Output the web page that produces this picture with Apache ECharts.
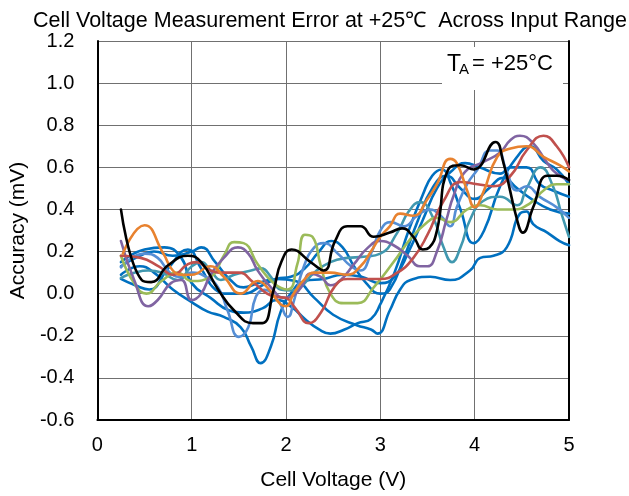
<!DOCTYPE html>
<html><head><meta charset="utf-8">
<script src="https://cdn.jsdelivr.net/npm/echarts@6/dist/echarts.min.js"></script>
<style>html,body{margin:0;padding:0;background:#fff}#c{width:629px;height:496px}</style>
</head><body><div id="c"></div>
<script>
const titleText = "Cell Voltage Measurement Error at +25\u2103  Across Input Range";
const xName = "Cell Voltage (V)";
const yName = "Accuracy (mV)";
const xMin = 0, xMax = 5, xStep = 1;
const yMin = -0.6, yMax = 1.2, yStep = 0.2;

const blackPts = [[0.25,0.40],[0.47,0.065],[0.57,0.055],[0.75,0.135],[0.96,0.18],[1.1,0.15],[1.28,0.02],[1.45,-0.08],[1.65,-0.14],[1.75,-0.14],[1.87,0.02],[1.95,0.15],[2.06,0.21],[2.26,0.15],[2.4,0.11],[2.52,0.25],[2.65,0.32],[2.79,0.32],[2.93,0.27],[3.1,0.29],[3.23,0.31],[3.35,0.27],[3.45,0.21],[3.52,0.22],[3.6,0.30],[3.72,0.59],[3.85,0.61],[3.99,0.59],[4.22,0.72],[4.3,0.63],[4.45,0.35],[4.51,0.29],[4.62,0.41],[4.77,0.56],[4.87,0.56],[5.0,0.54]];
const orangePts = [[0.27,0.19],[0.5,0.325],[0.7,0.19],[0.8,0.11],[0.9,0.09],[1.0,0.09],[1.2,0.13],[1.34,0.08],[1.52,0.0],[1.7,0.06],[1.8,0.03],[1.94,-0.05],[2.0,-0.06],[2.08,0.0],[2.2,0.07],[2.3,0.10],[2.47,0.10],[2.65,0.09],[2.79,0.13],[2.9,0.2],[3.0,0.27],[3.1,0.32],[3.21,0.38],[3.35,0.37],[3.5,0.45],[3.6,0.52],[3.74,0.64],[3.81,0.62],[3.92,0.49],[4.0,0.41],[4.09,0.48],[4.24,0.65],[4.38,0.69],[4.55,0.70],[4.73,0.65],[4.9,0.61],[5.0,0.58]];
const redPts = [[0.25,0.18],[0.46,0.17],[0.65,0.13],[0.8,0.09],[0.96,0.14],[1.05,0.15],[1.2,0.11],[1.34,0.10],[1.5,0.10],[1.65,0.055],[1.8,0.0],[1.9,-0.015],[2.0,-0.02],[2.1,-0.07],[2.24,-0.14],[2.37,-0.09],[2.51,0.03],[2.65,0.07],[2.82,0.07],[3.0,0.07],[3.18,0.10],[3.35,0.17],[3.5,0.28],[3.67,0.44],[3.85,0.53],[4.03,0.52],[4.2,0.51],[4.38,0.56],[4.55,0.68],[4.73,0.75],[4.87,0.70],[5.0,0.60]];
const greenPts = [[0.25,0.18],[0.39,0.05],[0.52,0.0],[0.68,0.06],[0.85,0.10],[1.0,0.06],[1.2,0.08],[1.34,0.18],[1.45,0.245],[1.55,0.24],[1.7,0.14],[1.87,0.05],[2.02,0.02],[2.12,0.14],[2.2,0.28],[2.28,0.27],[2.37,0.13],[2.47,0.0],[2.61,-0.045],[2.76,-0.045],[2.93,0.03],[3.14,0.15],[3.32,0.26],[3.5,0.34],[3.6,0.36],[3.74,0.34],[3.92,0.40],[4.06,0.42],[4.24,0.40],[4.41,0.40],[4.59,0.43],[4.73,0.49],[4.87,0.52],[5.0,0.52]];
const purplePts = [[0.25,0.25],[0.39,0.065],[0.54,-0.06],[0.64,-0.03],[0.78,0.05],[0.89,0.065],[1.0,-0.03],[1.1,0.0],[1.2,0.09],[1.34,0.17],[1.49,0.22],[1.6,0.19],[1.7,0.11],[1.84,0.03],[1.98,-0.02],[2.05,-0.015],[2.16,0.03],[2.26,0.095],[2.37,0.08],[2.47,0.04],[2.58,0.065],[2.72,0.14],[2.86,0.215],[3.0,0.25],[3.14,0.23],[3.29,0.18],[3.42,0.13],[3.5,0.13],[3.6,0.2],[3.7,0.35],[3.78,0.47],[3.9,0.58],[4.09,0.625],[4.27,0.67],[4.38,0.73],[4.48,0.75],[4.62,0.715],[4.77,0.62],[4.87,0.57],[5.0,0.54]];
const tealPts = [[0.25,0.075],[0.4,0.10],[0.54,0.11],[0.68,0.10],[0.85,0.065],[1.0,0.13],[1.1,0.15],[1.2,0.11],[1.31,0.065],[1.45,0.09],[1.63,0.11],[1.73,0.12],[1.84,0.08],[1.94,0.02],[2.05,0.015],[2.15,0.03],[2.3,0.10],[2.47,0.15],[2.65,0.17],[2.82,0.175],[3.0,0.19],[3.18,0.29],[3.3,0.39],[3.42,0.435],[3.56,0.36],[3.67,0.22],[3.76,0.15],[3.85,0.22],[3.95,0.35],[4.09,0.44],[4.27,0.46],[4.45,0.42],[4.55,0.5],[4.7,0.60],[4.83,0.51],[4.92,0.38],[5.0,0.27]];
const steelPts = [[0.25,0.125],[0.5,0.19],[0.64,0.17],[0.78,0.095],[0.9,0.08],[1.0,0.10],[1.15,0.08],[1.28,0.03],[1.38,-0.08],[1.5,-0.205],[1.6,-0.16],[1.68,-0.015],[1.77,0.018],[1.91,-0.03],[2.02,-0.11],[2.08,-0.04],[2.19,0.13],[2.3,0.22],[2.4,0.24],[2.55,0.19],[2.69,0.13],[2.79,0.11],[2.9,0.19],[3.0,0.30],[3.11,0.34],[3.25,0.32],[3.39,0.37],[3.53,0.40],[3.64,0.37],[3.74,0.32],[3.81,0.41],[3.92,0.52],[4.03,0.59],[4.16,0.68],[4.24,0.68],[4.34,0.58],[4.45,0.49],[4.55,0.51],[4.69,0.46],[4.87,0.41],[5.0,0.36]];
const blueAPts = [[0.25,0.09],[0.45,0.13],[0.6,0.1],[0.8,0.02],[1.0,-0.04],[1.17,-0.085],[1.34,-0.11],[1.52,-0.16],[1.63,-0.25],[1.73,-0.33],[1.84,-0.25],[1.94,-0.09],[2.05,0.0],[2.2,0.06],[2.4,0.07],[2.6,0.09],[2.8,0.08],[3.0,0.05],[3.15,0.08],[3.3,0.2],[3.45,0.35],[3.6,0.5],[3.75,0.58],[3.9,0.62],[4.05,0.6],[4.27,0.57],[4.38,0.6],[4.55,0.6],[4.69,0.52],[4.83,0.49],[5.0,0.46]];
const blueBPts = [[0.25,0.15],[0.5,0.21],[0.71,0.22],[0.89,0.17],[1.0,0.05],[1.2,-0.02],[1.4,-0.08],[1.55,-0.09],[1.75,-0.07],[1.9,-0.03],[2.05,-0.06],[2.2,-0.12],[2.35,-0.17],[2.47,-0.19],[2.62,-0.17],[2.76,-0.14],[2.9,-0.12],[3.0,-0.05],[3.15,0.1],[3.3,0.3],[3.45,0.47],[3.55,0.56],[3.65,0.59],[3.75,0.52],[3.85,0.40],[3.99,0.24],[4.1,0.3],[4.27,0.51],[4.45,0.65],[4.59,0.70],[4.73,0.63],[4.87,0.59],[5.0,0.52]];
const blueCPts = [[0.25,0.07],[0.4,0.04],[0.55,0.02],[0.75,0.12],[0.96,0.21],[1.1,0.12],[1.25,0.02],[1.4,0.0],[1.55,0.0],[1.75,0.04],[1.9,0.07],[2.05,0.08],[2.2,0.12],[2.35,0.2],[2.48,0.25],[2.6,0.22],[2.72,0.13],[2.85,0.05],[3.0,0.0],[3.1,0.02],[3.25,0.17],[3.4,0.35],[3.55,0.5],[3.7,0.56],[3.85,0.5],[4.0,0.45],[4.15,0.5],[4.3,0.55],[4.45,0.5],[4.6,0.45],[4.8,0.40],[5.0,0.38]];
const blueDPts = [[0.25,0.13],[0.45,0.18],[0.6,0.2],[0.8,0.18],[1.0,0.2],[1.1,0.22],[1.25,0.15],[1.4,0.07],[1.55,0.03],[1.7,0.05],[1.9,0.07],[2.1,0.06],[2.3,-0.02],[2.5,-0.1],[2.75,-0.15],[2.9,-0.17],[2.97,-0.19],[3.1,-0.08],[3.21,0.02],[3.32,0.065],[3.53,0.08],[3.74,0.065],[3.95,0.11],[4.06,0.17],[4.2,0.18],[4.34,0.22],[4.48,0.38],[4.55,0.39],[4.62,0.33],[4.77,0.29],[4.9,0.25],[5.0,0.23]];

const seriesDefs = [
  {name:'blueD', data: blueDPts, color:'#0070C0'},
  {name:'blueC', data: blueCPts, color:'#0070C0'},
  {name:'blueB', data: blueBPts, color:'#0070C0'},
  {name:'blueA', data: blueAPts, color:'#0070C0'},
  {name:'teal', data: tealPts, color:'#4198AF'},
  {name:'steel', data: steelPts, color:'#558ED5'},
  {name:'green', data: greenPts, color:'#9BBB59'},
  {name:'purple', data: purplePts, color:'#8064A2'},
  {name:'red', data: redPts, color:'#C0504D'},
  {name:'orange', data: orangePts, color:'#E8822F'},
  {name:'black', data: blackPts, color:'#000000'}
];

const FONT = 'Liberation Sans, Arial, sans-serif';
const chart = echarts.init(document.getElementById('c'), null, {renderer:'canvas'});
chart.setOption({
  animation: false,
  backgroundColor: '#fff',
  title: {text: titleText, left: 28, top: 5, textStyle:{fontFamily:FONT, fontSize:21.5, fontWeight:'normal', color:'#000'}},
  grid: {left: 96, right: 60, top: 41, bottom: 76, containLabel: false},
  xAxis: {
    type:'value', min:xMin, max:xMax, interval:xStep,
    name:xName, nameLocation:'middle', nameGap:50,
    nameTextStyle:{fontFamily:FONT, fontSize:21, color:'#000'},
    axisLine:{show:true, onZero:false, lineStyle:{color:'#000', width:2}},
    axisTick:{show:false},
    axisLabel:{fontFamily:FONT, fontSize:20, color:'#000', margin:15},
    splitLine:{show:true, lineStyle:{color:'#707070', width:1}}
  },
  yAxis: [{
    type:'value', min:yMin, max:yMax, interval:yStep,
    name:yName, nameLocation:'middle', nameGap:67,
    nameTextStyle:{fontFamily:FONT, fontSize:21, color:'#000'},
    axisLine:{show:true, lineStyle:{color:'#000', width:2}},
    axisTick:{show:false},
    axisLabel:{fontFamily:FONT, fontSize:20, color:'#000', margin:23, formatter: v => v.toFixed(1)},
    splitLine:{show:true, lineStyle:{color:'#707070', width:1}}
  },{
    type:'value', min:yMin, max:yMax, interval:yStep, position:'right',
    axisLine:{show:true, lineStyle:{color:'#000', width:2}},
    axisTick:{show:false}, axisLabel:{show:false}, splitLine:{show:false}
  }],
  series: seriesDefs.map(s => ({
    name: s.name, type:'line', data: s.data, smooth: 0.5, showSymbol:false,
    yAxisIndex: 0,
    lineStyle:{color:s.color, width:2.6, cap:'round', join:'round'}, itemStyle:{color:s.color}
  })),
  graphic: [
    {type:'rect', left:442, top:47, shape:{width:121, height:43}, style:{fill:'#fff'}, z:100},
    {type:'text', left:447, top:53, style:{text:'T', font:'23px ' + FONT, fill:'#000'}, z:101},
    {type:'text', left:459, top:62, style:{text:'A', font:'15px ' + FONT, fill:'#000'}, z:101},
    {type:'text', left:472, top:53, style:{text:'= +25\u00b0C', font:'22px ' + FONT, fill:'#000'}, z:101}
  ]
});
</script></body></html>
